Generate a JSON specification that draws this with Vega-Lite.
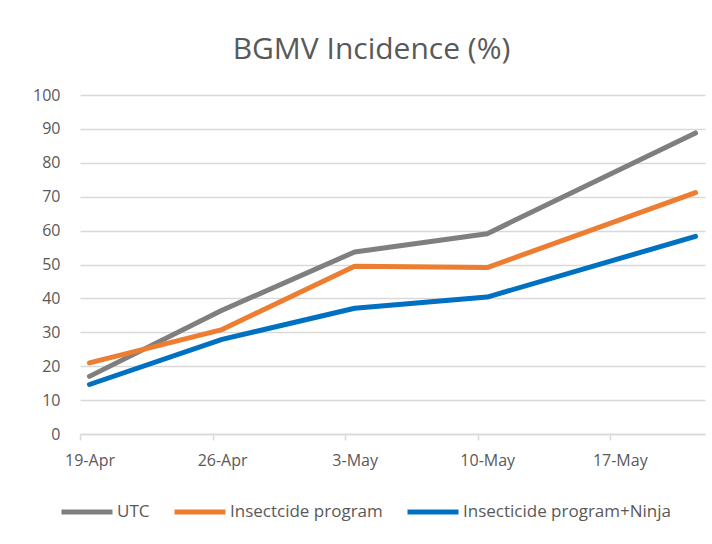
{
  "$schema": "https://vega.github.io/schema/vega-lite/v6.json",
  "autosize": "none",
  "width": 625,
  "height": 339,
  "padding": {"left": 80, "top": 95, "right": 7, "bottom": 110},
  "background": "white",
  "title": {
    "text": "BGMV Incidence (%)",
    "font": "Open Sans",
    "fontSize": 30,
    "fontWeight": "normal",
    "color": "#595959",
    "anchor": "middle",
    "frame": "group",
    "dx": -21,
    "offset": 22
  },
  "data": {
    "values": [
      {"date": "2021-04-19", "series": "UTC", "value": 17.0},
      {"date": "2021-04-26", "series": "UTC", "value": 36.5},
      {"date": "2021-05-03", "series": "UTC", "value": 53.7},
      {"date": "2021-05-10", "series": "UTC", "value": 59.1},
      {"date": "2021-05-21", "series": "UTC", "value": 88.8},
      {"date": "2021-04-19", "series": "Insectcide program", "value": 21.0},
      {"date": "2021-04-26", "series": "Insectcide program", "value": 30.8},
      {"date": "2021-05-03", "series": "Insectcide program", "value": 49.5},
      {"date": "2021-05-10", "series": "Insectcide program", "value": 49.1},
      {"date": "2021-05-21", "series": "Insectcide program", "value": 71.2},
      {"date": "2021-04-19", "series": "Insecticide program+Ninja", "value": 14.6},
      {"date": "2021-04-26", "series": "Insecticide program+Ninja", "value": 27.9},
      {"date": "2021-05-03", "series": "Insecticide program+Ninja", "value": 37.1},
      {"date": "2021-05-10", "series": "Insecticide program+Ninja", "value": 40.4},
      {"date": "2021-05-21", "series": "Insecticide program+Ninja", "value": 58.3}
    ]
  },
  "mark": {"type": "line", "strokeWidth": 5, "strokeCap": "round", "strokeJoin": "round"},
  "encoding": {
    "x": {
      "field": "date",
      "type": "temporal",
      "timeUnit": "utcyearmonthdate",
      "bandPosition": 0.5,
      "scale": {
        "type": "utc",
        "domain": [
          {"year": 2021, "month": 4, "date": 19, "utc": true},
          {"year": 2021, "month": 5, "date": 22, "utc": true}
        ]
      },
      "axis": {
        "title": null,
        "values": [
          {"year": 2021, "month": 4, "date": 19, "utc": true},
          {"year": 2021, "month": 4, "date": 26, "utc": true},
          {"year": 2021, "month": 5, "date": 3, "utc": true},
          {"year": 2021, "month": 5, "date": 10, "utc": true},
          {"year": 2021, "month": 5, "date": 17, "utc": true}
        ],
        "format": "%-d-%b",
        "grid": false,
        "domainColor": "#D9D9D9",
        "domainWidth": 1.5,
        "tickColor": "#D9D9D9",
        "tickSize": 6,
        "tickWidth": 1.5,
        "labelOffset": 9.5,
        "labelPadding": 12,
        "labelFont": "Open Sans",
        "labelFontSize": 16,
        "labelColor": "#595959",
        "labelFlush": false
      }
    },
    "y": {
      "field": "value",
      "type": "quantitative",
      "scale": {"domain": [0, 100], "nice": false},
      "axis": {
        "title": null,
        "values": [0, 10, 20, 30, 40, 50, 60, 70, 80, 90, 100],
        "domain": false,
        "ticks": false,
        "grid": true,
        "gridColor": "#D9D9D9",
        "gridWidth": 1.5,
        "labelPadding": 20,
        "labelFont": "Open Sans",
        "labelFontSize": 16,
        "labelColor": "#595959"
      }
    },
    "color": {
      "field": "series",
      "type": "nominal",
      "scale": {
        "domain": ["UTC", "Insectcide program", "Insecticide program+Ninja"],
        "range": ["#7F7F7F", "#ED7D31", "#0070C0"]
      },
      "legend": {
        "title": null,
        "orient": "none",
        "legendX": -21,
        "legendY": 389,
        "direction": "horizontal",
        "symbolType": "stroke",
        "symbolSize": 2601,
        "symbolStrokeWidth": 5,
        "labelFont": "Open Sans",
        "labelFontSize": 17,
        "labelColor": "#595959",
        "labelLimit": 400,
        "labelOffset": 2,
        "columnPadding": 14
      }
    }
  },
  "config": {"view": {"stroke": null}}
}
